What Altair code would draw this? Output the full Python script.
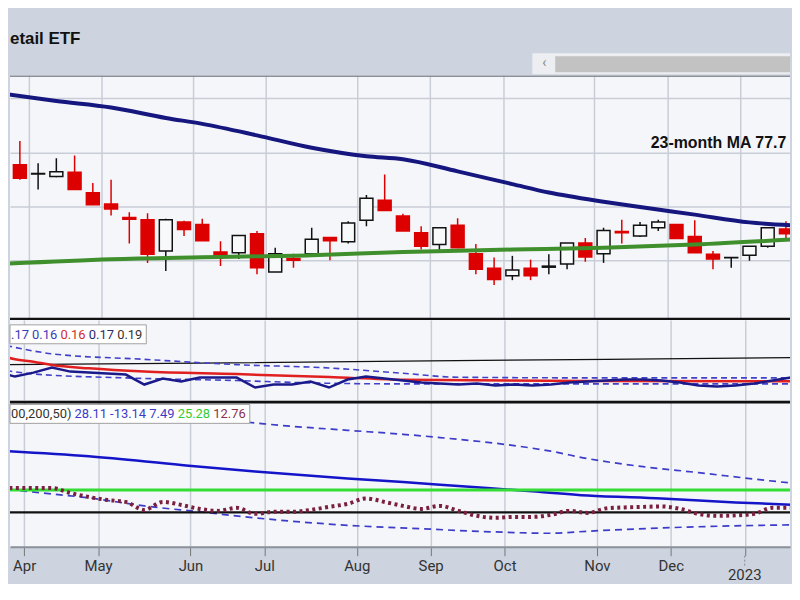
import altair as alt
import pandas as pd

# ---------------- data (weekly candles, index = week number) ----------------
weeks = list(range(43))
opens = [77.7, 76.0, 75.5, 76.3, 72.5, 70.4, 67.9, 67.5, 61.7, 67.1, 66.6, 61.5, 61.4, 64.9,
         57.8, 60.3, 61.2, 64.2, 63.4, 67.4, 71.1, 68.2, 65.1, 62.9, 66.5, 61.2, 58.5, 57.1,
         58.5, 58.7, 59.3, 63.2, 61.2, 65.3, 64.5, 66.0, 66.6, 64.4, 61.1, 60.45, 60.9, 62.6, 65.8]
highs = [82.1, 78.0, 78.9, 79.4, 74.3, 74.9, 68.9, 68.7, 67.7, 67.3, 67.7, 63.5, 64.6, 65.4,
         62.3, 61.2, 66.0, 64.2, 67.2, 72.1, 75.9, 68.6, 66.3, 66.0, 67.8, 63.0, 60.5, 60.8,
         60.1, 61.1, 63.2, 64.1, 66.0, 67.5, 67.1, 67.5, 66.6, 67.4, 61.7, 60.5, 62.6, 66.0, 67.2]
lows = [74.9, 73.1, 75.4, 73.1, 70.3, 68.3, 63.1, 59.5, 58.0, 64.5, 63.6, 58.9, 60.2, 57.4,
        57.8, 58.6, 61.2, 60.0, 63.1, 66.3, 69.2, 65.4, 62.0, 61.8, 62.2, 57.4, 55.4, 56.3,
        56.3, 57.4, 58.3, 59.7, 59.5, 63.1, 64.3, 65.4, 64.0, 61.4, 58.3, 58.6, 59.9, 62.3, 63.7]
closes = [75.2, 76.1, 76.4, 73.1, 70.3, 69.5, 67.6, 61.1, 67.5, 65.7, 63.6, 60.9, 64.6, 58.6,
          61.2, 60.0, 63.9, 63.6, 66.9, 71.5, 69.2, 65.4, 62.6, 66.0, 62.3, 58.3, 56.4, 58.2,
          57.1, 58.9, 63.2, 60.6, 65.5, 65.1, 66.5, 67.1, 64.0, 61.4, 60.2, 60.5, 62.6, 66.0, 64.9]

# price moving averages
ma_long_i = [-1, 2, 5, 8, 10, 13, 16, 19, 21, 24, 27, 29, 32, 34, 37, 40, 43]
ma_long_v = [90.90, 89.52, 88.32, 86.38, 85.28, 83.15, 80.85, 79.28, 78.73, 76.48, 74.11,
             72.55, 70.85, 69.87, 68.45, 67.01, 66.37]
ma_23_i = [-1, 5, 10, 16, 21, 27, 32, 37, 43]
ma_23_v = [59.30, 60.18, 60.55, 60.92, 61.53, 61.97, 62.31, 62.90, 63.97]
ma_label = "23-month MA 77.7"

# middle panel
p2_main_i = list(range(-1, 43))
p2_main_v = [0.1720, 0.1660, 0.1708, 0.1768, 0.1720, 0.1708, 0.1696, 0.1684, 0.1564, 0.1636,
             0.1600, 0.1648, 0.1648, 0.1648, 0.1528, 0.1564, 0.1564, 0.1600, 0.1528, 0.1624,
             0.1660, 0.1636, 0.1612, 0.1588, 0.1576, 0.1564, 0.1576, 0.1552, 0.1564, 0.1552,
             0.1564, 0.1588, 0.1600, 0.1612, 0.1624, 0.1624, 0.1612, 0.1588, 0.1552, 0.1540,
             0.1552, 0.1576, 0.1612, 0.1648]
p2_red_i = [-1, 0, 1, 2, 4, 7, 12, 17, 21, 31, 43]
p2_red_v = [0.1925, 0.1870, 0.1840, 0.1800, 0.1760, 0.1720, 0.1690, 0.1655, 0.1622, 0.1606, 0.1604]
p2_up_i = [-1, 2, 7, 12, 17, 21, 24, 32, 43]
p2_up_v = [0.2060, 0.1935, 0.1868, 0.1804, 0.1764, 0.1700, 0.1652, 0.1644, 0.1644]
p2_lo_i = [-1, 1, 6, 12, 16, 21, 43]
p2_lo_v = [0.1750, 0.1692, 0.1644, 0.1612, 0.1584, 0.1572, 0.1572]
p2_blk_i = [-1, 10, 21, 32, 43]
p2_blk_v = [0.1804, 0.1822, 0.1846, 0.1868, 0.1892]
p2_legend = [".17", "0.16", "0.16", "0.17", "0.19"]

# bottom panel
p3_up_i = [10, 12, 15, 18, 21, 23, 26, 28, 29, 31, 34, 37, 40, 43]
p3_up_v = [106.0, 102.8, 97.2, 92.7, 88.2, 84.5, 78.1, 72.5, 69.1, 60.7, 51.6, 44.9, 37.6, 31.0]
p3_mid_i = [-1, 4, 9, 13, 18, 21, 24, 28, 31, 35, 39, 43]
p3_mid_v = [69.8, 63.3, 53.5, 46.1, 38.2, 34.3, 29.8, 23.9, 19.1, 15.7, 11.2, 7.8]
p3_lo_i = [-1, 2, 4, 7, 10, 13, 18, 22, 26, 29, 31, 35, 39, 43]
p3_lo_v = [27.5, 20.8, 16.4, 7.3, 0.6, -6.2, -14.6, -18.5, -22.1, -23.6, -21.3, -17.6, -15.2, -13.9]
p3_green = [25.28]
p3_zero = [0]
p3_osc_i = list(range(-1, 43))
p3_osc_v = [28.7, 27.5, 27.5, 27.5, 21.9, 17.4, 14.0, 11.8, 2.8, 11.8, 8.4, 3.9, 1.7, 5.1, -1.7,
            0.6, 0.6, 2.8, 6.2, 9.6, 15.7, 11.8, 7.3, 3.9, 7.3, 1.7, -3.9, -6.2, -5.1, -5.1,
            -2.8, 1.7, -0.6, 4.5, 5.6, 6.2, 6.7, 3.9, -1.7, -3.9, -3.4, -1.7, 5.1, 5.1]
p3_legend = ["00,200,50)", "28.11", "-13.14", "7.49", "25.28", "12.76"]

month_ticks = [0.5, 4.5, 9.5, 13.5, 18.5, 22.5, 26.5, 31.5, 35.5, 39.5]
month_labels = ["Apr", "May", "Jun", "Jul", "Aug", "Sep", "Oct", "Nov", "Dec", ""]
year_tick = [39.5]
year_label = ["2023"]
title_text = "etail ETF"

# ---------------- styling ----------------
BG = "#cdd3df"
PANEL = "#f5f6fa"
GRID = "#c9cdd6"
W = 784
H0, H1, H2, H3 = 66, 246, 81, 147
XDOM = [-0.269, 41.95]
FONT = "Roboto"
dummy = pd.DataFrame({"k": [0]})

label_expr = "".join(f"datum.value == {p} ? '{l}' : " for p, l in zip(month_ticks, month_labels)) + "''"
xscale = alt.Scale(domain=XDOM, nice=False, zero=False)


def X(show=False):
    if show:
        ax = alt.Axis(values=month_ticks, grid=True, gridColor=GRID, gridWidth=1.5, title=None,
                      labels=True, ticks=True, domain=True, domainColor="#8c9099", domainWidth=2,
                      tickColor="#777777", tickSize=9, tickWidth=1, labelExpr=label_expr,
                      labelFont=FONT, labelFontSize=15, labelColor="#333333", labelPadding=3,
                      labelFlush=False, labelOverlap=False)
    else:
        ax = alt.Axis(values=month_ticks, grid=True, gridColor=GRID, gridWidth=1.5, title=None,
                      labels=False, ticks=False, domain=False)
    return alt.X("i:Q", scale=xscale, axis=ax)


def hrule(y, color, width):
    return alt.Chart(dummy).mark_rule(color=color, strokeWidth=width, clip=True).encode(
        x=alt.value(0), x2=alt.value(W), y=alt.value(y))


def legend(texts, colors, xs, box_right, top):
    layers = [alt.Chart(dummy).mark_rect(fill="white", stroke="#a0a0a0", strokeWidth=1).encode(
        x=alt.value(0), x2=alt.value(box_right), y=alt.value(top), y2=alt.value(top + 19))]
    for t, c, xp in zip(texts, colors, xs):
        layers.append(alt.Chart(dummy).mark_text(text=t, color=c, align="left", baseline="alphabetic",
                                                 font=FONT, fontSize=13).encode(
            x=alt.value(xp), y=alt.value(top + 14)))
    return layers


# ---------------- header ----------------
header = alt.layer(
    alt.Chart(dummy).mark_rect(fill="#eceef2").encode(
        x=alt.value(525), x2=alt.value(W), y=alt.value(44), y2=alt.value(65)),
    alt.Chart(dummy).mark_rect(fill="#c2c2c2").encode(
        x=alt.value(548), x2=alt.value(W), y=alt.value(47), y2=alt.value(63)),
    alt.Chart(dummy).mark_text(text="‹", color="#888888", fontSize=14, font=FONT).encode(
        x=alt.value(537), y=alt.value(54)),
    alt.Chart(dummy).mark_text(text=title_text, align="left", baseline="alphabetic", fontSize=17,
                               fontWeight="bold", font="Liberation Sans", color="#111111").encode(
        x=alt.value(0), y=alt.value(35)),
).properties(width=W, height=H0)

# ---------------- price panel ----------------
cdf = pd.DataFrame({"i": weeks, "open": opens, "high": highs, "low": lows, "close": closes})
cdf["up"] = cdf["close"] >= cdf["open"]
cdf["edge"] = cdf["up"].map({True: "#111111", False: "#dd0000"})
cdf["face"] = cdf["up"].map({True: "#f8f9fb", False: "#dd0000"})

pscale = alt.Scale(domain=[48.93, 94.32], nice=False, zero=False)
paxis = alt.Axis(values=[60, 70, 80, 90], grid=True, gridColor=GRID, gridWidth=1.5,
                 labels=False, ticks=False, domain=False, title=None)


def PY(f):
    return alt.Y(f, type="quantitative", scale=pscale, axis=paxis)


wicks = alt.Chart(cdf).mark_rule(strokeWidth=1.5, clip=True).encode(
    x=X(), y=PY("low"), y2="high", color=alt.Color("edge:N", scale=None))
bodies = alt.Chart(cdf).mark_bar(size=13, strokeWidth=1.5, clip=True).encode(
    x=X(), y=PY("open"), y2="close",
    fill=alt.Fill("face:N", scale=None), stroke=alt.Stroke("edge:N", scale=None))
ma23 = alt.Chart(pd.DataFrame({"i": ma_23_i, "v": ma_23_v})).mark_line(
    color="#3f8f2c", strokeWidth=4, interpolate="monotone", clip=True).encode(x=X(), y=PY("v"))
malong = alt.Chart(pd.DataFrame({"i": ma_long_i, "v": ma_long_v})).mark_line(
    color="#16167f", strokeWidth=4, interpolate="monotone", clip=True).encode(x=X(), y=PY("v"))
malabel = alt.Chart(dummy).mark_text(text=ma_label, align="left", baseline="alphabetic", fontSize=16,
                                     fontWeight="bold", font="Liberation Sans", color="#111111",
                                     clip=True).encode(x=alt.value(644), y=alt.value(73))

price = alt.layer(wicks, bodies, ma23, malong, malabel,
                  hrule(1, "#8c9099", 2), hrule(H1 - 1, "#111111", 2.5)).properties(
    width=W, height=H1, view=alt.ViewBackground(fill=PANEL, stroke=None))

# ---------------- middle panel ----------------
s2 = alt.Scale(domain=[0.1372, 0.2344], nice=False, zero=False)


def line2(i, v, **kw):
    return alt.Chart(pd.DataFrame({"i": i, "v": v})).mark_line(clip=True, **kw).encode(
        x=X(), y=alt.Y("v:Q", scale=s2, axis=None))


mid = alt.layer(
    line2(p2_blk_i, p2_blk_v, color="#111111", strokeWidth=1.3),
    line2(p2_up_i, p2_up_v, color="#4040c8", strokeWidth=1.6, strokeDash=[6, 4], interpolate="monotone"),
    line2(p2_lo_i, p2_lo_v, color="#4040c8", strokeWidth=1.6, strokeDash=[6, 4], interpolate="monotone"),
    line2(p2_red_i, p2_red_v, color="#e02020", strokeWidth=2.5, interpolate="monotone"),
    line2(p2_main_i, p2_main_v, color="#1a1a8a", strokeWidth=2.5),
    *legend(p2_legend, ["#3b3bb8", "#3b3bb8", "#d42a2a", "#2a2a70", "#333333"],
            [1, 22.2, 50.7, 79.2, 107.7], 137, 5),
).properties(width=W, height=H2, view=alt.ViewBackground(fill=PANEL, stroke=None))

# ---------------- bottom panel ----------------
s3 = alt.Scale(domain=[-38.8, 126.4], nice=False, zero=False)


def Y3():
    return alt.Y("v:Q", scale=s3, axis=None)


def line3(i, v, **kw):
    return alt.Chart(pd.DataFrame({"i": i, "v": v})).mark_line(clip=True, **kw).encode(
        x=X(True), y=Y3())


bottom = alt.layer(
    line3(p3_up_i, p3_up_v, color="#3c3cc8", strokeWidth=1.7, strokeDash=[7, 5], interpolate="monotone"),
    line3(p3_lo_i, p3_lo_v, color="#3c3cc8", strokeWidth=1.7, strokeDash=[7, 5], interpolate="monotone"),
    line3(p3_mid_i, p3_mid_v, color="#1414c8", strokeWidth=2.5, interpolate="monotone"),
    alt.Chart(pd.DataFrame({"v": p3_green})).mark_rule(color="#33dd33", strokeWidth=3).encode(y=Y3()),
    alt.Chart(pd.DataFrame({"v": p3_zero})).mark_rule(color="#111111", strokeWidth=2.5).encode(y=Y3()),
    line3(p3_osc_i, p3_osc_v, color="#7a1f3d", strokeWidth=4, strokeDash=[3, 3.5], interpolate="monotone"),
    hrule(1.5, "#111111", 3),
    *legend(p3_legend, ["#333333", "#3b3bc8", "#3b3bc8", "#3b3bc8", "#33cc33", "#8b3050"],
            [1, 64.8, 100.6, 140, 168.5, 204.3], 241, 4),
    alt.Chart(pd.DataFrame({"i": year_tick})).mark_rule(color="#888888", strokeDash=[2, 2]).encode(
        x=X(True), y=alt.value(H3 + 9), y2=alt.value(H3 + 21)),
    alt.Chart(pd.DataFrame({"i": year_tick, "t": year_label})).mark_text(
        font=FONT, fontSize=15, color="#333333", baseline="bottom").encode(
        x=X(True), y=alt.value(H3 + 36), text="t:N"),
).properties(width=W, height=H3, view=alt.ViewBackground(fill=PANEL, stroke=None))

chart = alt.vconcat(header, price, mid, bottom, spacing=0, bounds="flush").properties(
    padding={"left": 0, "top": 0, "right": 0, "bottom": 0}
).configure(background=BG).configure_view(stroke=None)

chart.save("out.html", embed_options={"renderer": "svg", "actions": False})
